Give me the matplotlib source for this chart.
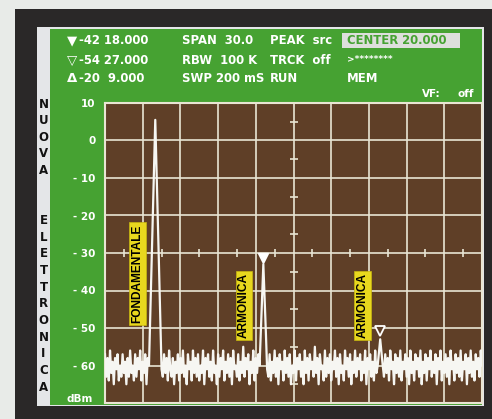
import numpy as np
import matplotlib
matplotlib.use('Agg')
import matplotlib.pyplot as plt
from matplotlib.patches import Rectangle

# frequency axis: center 20 MHz, span 30 MHz
f_start, f_stop = 5.0, 35.0
db_top, db_bottom = 10, -70

# trace (dBm), one value every 0.1 MHz
trace_db = [
    -57, -63, -58, -64, -56, -62, -59, -65, -58, -61, -57, -64, -60, -63, -57, -62, -59, -65, -58, -63,
    -56, -62, -60, -64, -57, -63, -58, -61, -56, -64, -59, -62, -57, -65, -58, -60, -47, -34, -21, -8,
    5.5, -8, -21, -34, -47, -61, -63, -57, -62, -58, -64, -56, -61, -63, -58, -65, -59, -62, -57, -64,
    -58, -62, -56, -63, -60, -65, -57, -61, -59, -64, -56, -62, -58, -63, -57, -64, -60, -62, -56, -65,
    -58, -61, -57, -63, -59, -64, -56, -62, -60, -65, -57, -63, -58, -61, -56, -64, -59, -62, -57, -63,
    -58, -65, -56, -61, -60, -63, -57, -64, -59, -62, -55, -63, -58, -61, -57, -65, -59, -62, -56, -64,
    -58, -62, -57, -60, -51, -42, -33, -42, -51, -61, -63, -57, -64, -59, -62, -56, -63, -58, -65, -57,
    -61, -59, -64, -56, -62, -58, -63, -57, -65, -60, -62, -56, -64, -58, -61, -57, -63, -59, -65, -56,
    -62, -58, -64, -57, -61, -59, -63, -55, -62, -58, -65, -57, -61, -60, -64, -56, -63, -58, -62, -57,
    -64, -59, -61, -56, -63, -58, -65, -57, -62, -60, -64, -56, -61, -58, -63, -57, -65, -59, -62, -56,
    -63, -58, -61, -57, -64, -59, -62, -56, -65, -58, -61, -57, -63, -59, -64, -56, -62, -60, -56.5, -53,
    -56.5, -60, -63, -57, -62, -58, -64, -56, -61, -59, -65, -57, -62, -58, -63, -56, -64, -59, -61, -57,
    -63, -58, -65, -56, -62, -59, -64, -57, -61, -58, -63, -56, -65, -59, -62, -57, -64, -58, -61, -56,
    -63, -59, -62, -57, -65, -58, -61, -56, -64, -59, -62, -57, -63, -58, -65, -56, -61, -59, -64, -57,
    -62, -58, -63, -56, -64, -59, -61, -57, -65, -58, -62, -56, -63, -59, -64, -57, -61, -58, -63, -56,
    -60,
]
trace_f = np.linspace(f_start, f_stop, len(trace_db))

# markers
m1_f, m1_db = 17.6, -31.3   # filled marker (harmonic 2)
m2_f, m2_db = 26.9, -50.8   # open marker (harmonic 3)

ytick_vals = [10, 0, -10, -20, -30, -40, -50, -60]
ytick_txt = ['10', '0', '- 10', '- 20', '- 30', '- 40', '- 50', '- 60']

header_rows = [
    ['\u25bc', '-42 18.000', 'SPAN  30.0', 'PEAK  src'],
    ['\u25bd', '-54 27.000', 'RBW  100 K', 'TRCK  off'],
    ['\u0394', '-20  9.000', 'SWP 200 mS', 'RUN'],
]
side_word = 'NUOVA  ELETTRONICA'

W, H = 492, 419
GREEN = '#46a232'
BROWN = '#5f3f27'
GRID = '#e9e5d3'

plt.rcParams['font.family'] = 'DejaVu Sans'
plt.rcParams['font.weight'] = 'bold'

fig = plt.figure(figsize=(W/100, H/100), dpi=100, facecolor='#e8ebe8')


def box(x0, y0, x1, y1, color):
    fig.add_artist(Rectangle((x0/W, 1 - y1/H), (x1 - x0)/W, (y1 - y0)/H,
                             transform=fig.transFigure, color=color, lw=0, zorder=-10))


def txt(x, y, s, **kw):
    fig.text(x/W, 1 - y/H, s, **kw)


box(15, 9, 492, 419, '#2a2828')
box(37, 27, 484, 406, '#e4e6e8')
box(50, 29.5, 481.5, 405, GREEN)

# header
cols = [72, 79, 182, 270]
rows_y = [41, 60, 79]
for ry, row in zip(rows_y, header_rows):
    for cx, s in zip(cols, row):
        size = 9.5 if cx == 72 else 8.4
        txt(cx, ry, s, color='white', fontsize=size, ha='left' if cx != 72 else 'center',
            va='center')
box(342, 33, 460, 48.5, '#dedfdc')
txt(347, 41, 'CENTER 20.000', color=GREEN, fontsize=8.4, va='center')
txt(347, 59, '>********', color='white', fontsize=6.5, va='center')
txt(347, 79, 'MEM', color='white', fontsize=8.4, va='center')
txt(422, 94, 'VF:', color='white', fontsize=7.5, va='center')
txt(457, 94, 'off', color='white', fontsize=7.5, va='center')
txt(93, 399, 'dBm', color='white', fontsize=7.5, ha='right', va='center')

# vertical brand text
for i, ch in enumerate(side_word):
    if ch != ' ':
        txt(43.5, 104 + i*16.65, ch, color='#111111', fontsize=8.5, ha='center', va='center')

ax = fig.add_axes([105/W, (H - 403)/H, 377/W, 300/H])
ax.set_zorder(5)
ax.set_facecolor(BROWN)
ax.set_xlim(f_start, f_stop)
ax.set_ylim(db_bottom, db_top)

step_f = (f_stop - f_start)/10
for k in range(1, 10):
    ax.axvline(f_start + k*step_f, color=GRID, lw=1.2, zorder=1)
for v in ytick_vals[1:]:
    ax.axhline(v, color=GRID, lw=1.2, zorder=1)

# small ticks on the centre cross
mid_f = [f_start + (k + 0.5)*step_f for k in range(10)]
mid_db = [v - 5 for v in ytick_vals]
ax.plot(mid_f, [-30]*len(mid_f), ls='none', marker='|', ms=6, mew=1.2, color=GRID, zorder=1)
ax.plot([20]*len(mid_db), mid_db, ls='none', marker='_', ms=6, mew=1.2, color=GRID, zorder=1)

ax.plot(trace_f, trace_db, color='#f6f6f2', lw=1.6, zorder=3)
ax.plot(m1_f, m1_db, marker='v', ms=7, color='white', mec='white', zorder=4)
ax.plot(m2_f, m2_db, marker='v', ms=7, mfc=BROWN, mec='white', mew=1.3, zorder=4)

lab = dict(rotation=90, ha='center', va='center', fontsize=8.6, color='black',
           family='Liberation Sans', weight='bold', zorder=5,
           bbox=dict(boxstyle='square,pad=0.2', fc='#e8d81e', ec='#c8b810', lw=0.5))
ax.text(7.59, -35.5, 'FONDAMENTALE', **lab)
ax.text(16.06, -44, 'ARMONICA', **lab)
ax.text(25.49, -44, 'ARMONICA', **lab)

ax.set_xticks([])
ax.set_yticks(ytick_vals)
ax.set_yticklabels(ytick_txt)
ax.tick_params(axis='y', length=0, pad=7, labelcolor='white', labelsize=7.5)
for sp in ax.spines.values():
    sp.set_color(GRID)
    sp.set_linewidth(1.5)

fig.savefig('out.png', dpi=100, facecolor=fig.get_facecolor())
